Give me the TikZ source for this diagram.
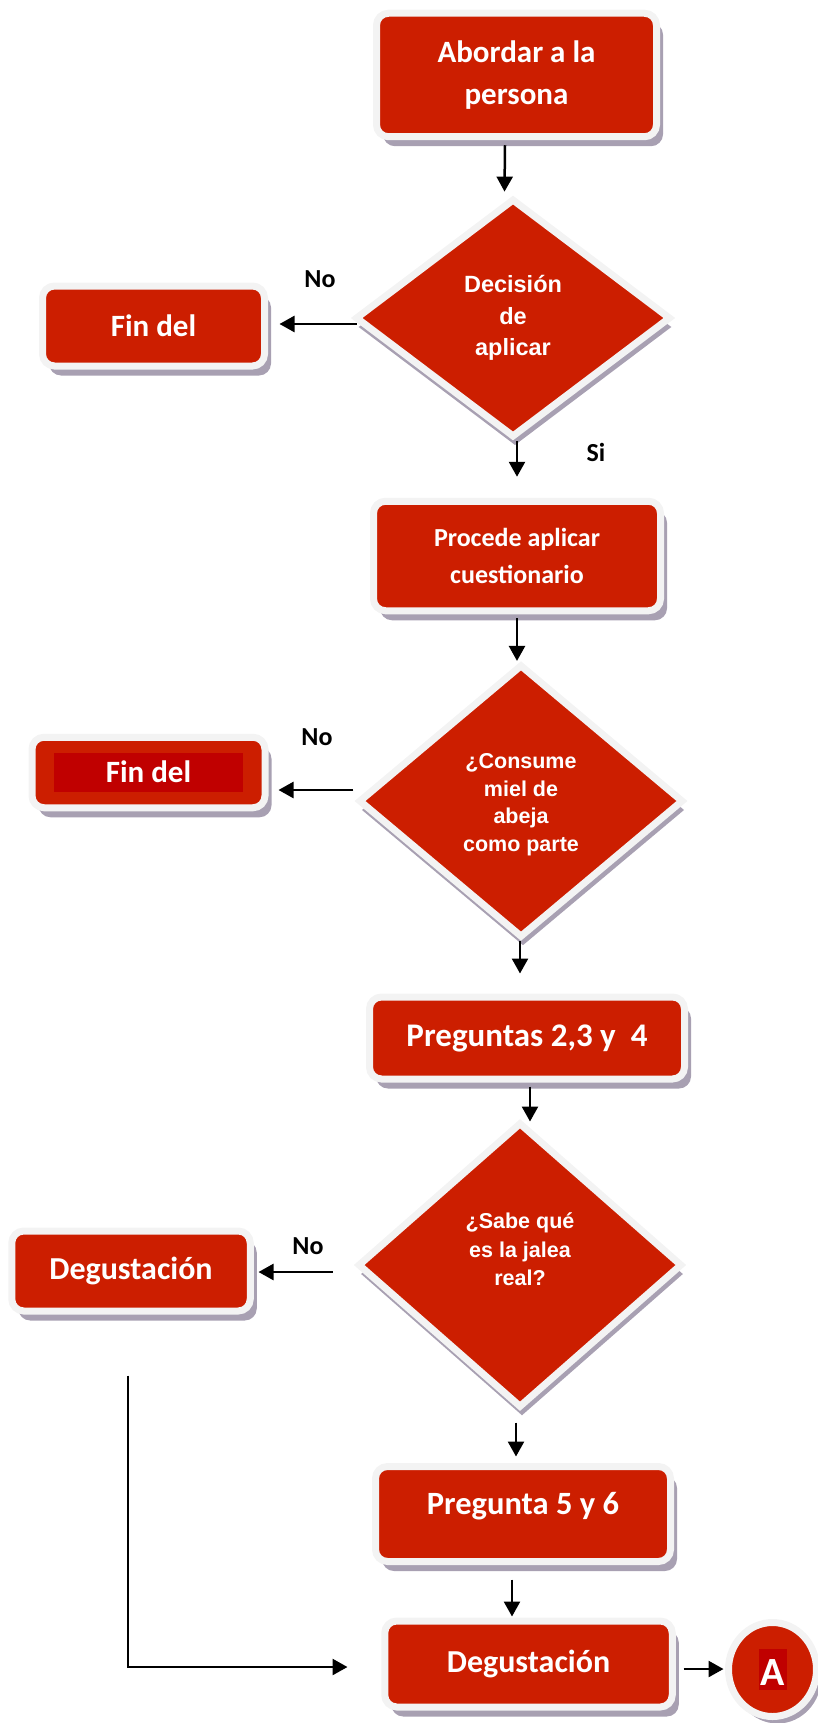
\documentclass[tikz,border=0pt]{standalone}
\usepackage{fontspec}
\newfontfamily\carl{Carlito}
\newfontfamily\arl{Liberation Sans}
\usetikzlibrary{shapes.geometric,shadows,arrows.meta}
\definecolor{fc}{RGB}{204,30,0}
\definecolor{hl}{RGB}{192,0,0}
\definecolor{bd}{RGB}{243,243,243}
\definecolor{sh}{RGB}{168,160,178}
\begin{document}
\begin{tikzpicture}[x=1pt,y=-1pt,
  boxst/.style={rectangle, rounded corners=12pt, fill=fc, draw=bd, line width=7pt,
    inner sep=0pt, text=white, align=center,
    font=\carl\bfseries\fontsize{31}{42}\selectfont,
    drop shadow={shadow xshift=6.5pt, shadow yshift=-9.5pt, fill=sh, draw=none, opacity=1}},
  dia/.style={diamond, aspect=1.2, fill=fc, draw=bd, line width=7pt, inner sep=0pt,
    text=white, align=center,
    drop shadow={shadow xshift=2pt, shadow yshift=-9pt, fill=sh, draw=none, opacity=1}},
  circ/.style={ellipse, fill=fc, draw=bd, line width=7pt, inner sep=0pt, text=white,
    drop shadow={shadow xshift=5pt, shadow yshift=-7pt, fill=sh, draw=none, opacity=1}},
  lab/.style={font=\carl\bfseries\fontsize{26}{30}\selectfont, text=black, inner sep=0pt},
  arr/.style={line width=2.5pt, -{Triangle[length=15pt,width=16pt]}}
]
\useasboundingbox (0,0) rectangle (817,1723);

\node[boxst, minimum width=280pt, minimum height=123.5pt] (b1) at (516.5,75) {Abordar a la\\persona};
\node[dia, minimum width=315.6pt, minimum height=238.8pt,
  font=\arl\bfseries\fontsize{23.5}{31.5}\selectfont] (d1) at (513,318) {Decisión\\de\\aplicar};
\node[boxst, minimum width=222pt, minimum height=80pt] (f1) at (153.5,326) {Fin del};
\node[boxst, minimum width=287pt, minimum height=109.5pt,
  font=\carl\bfseries\fontsize{26}{37}\selectfont] (b2) at (517,556) {Procede aplicar\\cuestionario};
\node[dia, minimum width=324.9pt, minimum height=273.2pt,
  font=\arl\bfseries\fontsize{21.5}{27.7}\selectfont] (d2) at (521,801)
  {\raisebox{-3.5pt}[\height][\depth]{\begin{tabular}{@{}c@{}}¿Consume\\miel de\\abeja\\como parte\end{tabular}}};
\node[boxst, minimum width=233pt, minimum height=70.5pt] (f2) at (148.5,772.5)
  {\setlength{\fboxsep}{0pt}\colorbox{hl}{\makebox[189pt]{\rule[-9.5pt]{0pt}{39pt}Fin del}}};
\node[boxst, minimum width=315pt, minimum height=82pt,
  font=\carl\bfseries\fontsize{33}{42}\selectfont] (b3) at (527,1038) {Preguntas 2,3 y\ \ 4};
\node[dia, minimum width=324.6pt, minimum height=285.4pt,
  font=\arl\bfseries\fontsize{21.5}{28.5}\selectfont] (d3) at (520,1265) {¿Sabe qué\\es la jalea\\real?\\[3pt]\mbox{}};
\node[boxst, minimum width=238.5pt, minimum height=80pt,
  font=\carl\bfseries\fontsize{32}{42}\selectfont] (dg1) at (131,1271) {Degustación};
\node[boxst, minimum width=295pt, minimum height=95pt,
  font=\carl\bfseries\fontsize{32.5}{42}\selectfont] (b5) at (523,1514)
  {\raisebox{8pt}[\height][\depth]{Pregunta 5 y 6}};
\node[boxst, minimum width=287.5pt, minimum height=86pt,
  font=\carl\bfseries\fontsize{32}{42}\selectfont] (dg2) at (528.5,1664) {Degustación};
\node[circ, minimum width=88pt, minimum height=94pt,
  font=\carl\bfseries\fontsize{40}{44}\selectfont] (ca) at (772.5,1669.5)
  {\setlength{\fboxsep}{0pt}\colorbox{hl}{\makebox[28pt]{\rule[-5pt]{0pt}{41pt}A}}};

\node[lab] (no1) at (320,279) {No};
\node[lab] (si1) at (596,452) {Si};
\node[lab] (no2) at (317,737) {No};
\node[lab] (no3) at (308,1246) {No};

\draw[arr] ([xshift=-11.5pt,yshift=-5pt]b1.south) -- ([xshift=-8.5pt,yshift=3.5pt]d1.north);
\draw[arr] ([xshift=4.8pt,yshift=-6pt]d1.west) -- ([xshift=11.5pt,yshift=2pt]f1.east);
\draw[arr] ([xshift=4pt]d1.south) -- ([yshift=21pt]b2.north);
\draw[arr] ([yshift=-4pt]b2.south) -- ([xshift=-4pt]d2.north);
\draw[arr] ([xshift=-1.6pt,yshift=11pt]d2.west) -- ([xshift=10pt,yshift=-17.5pt]f2.east);
\draw[arr] ([xshift=-1pt]d2.south) -- ([xshift=-7pt,yshift=20pt]b3.north);
\draw[arr] ([xshift=3pt,yshift=-4pt]b3.south) -- ([xshift=10pt,yshift=-2.7pt]d3.north);
\draw[arr] ([xshift=-21.7pt,yshift=-7pt]d3.west) -- ([xshift=4.75pt,yshift=-1pt]dg1.east);
\draw[arr] ([xshift=-4pt,yshift=-11.3pt]d3.south) -- ([xshift=-7pt,yshift=6.5pt]b5.north);
\draw[arr] ([xshift=-11pt,yshift=-14.5pt]b5.south) -- ([xshift=-16.5pt,yshift=1pt]dg2.north);
\draw[arr] ([xshift=7.75pt,yshift=-5pt]dg2.east) -- ([xshift=-1.5pt,yshift=0.5pt]ca.west);
\draw[arr] ([xshift=-3pt,yshift=-61pt]dg1.south) |- ([xshift=-33.75pt,yshift=-3pt]dg2.west);
\end{tikzpicture}
\end{document}
